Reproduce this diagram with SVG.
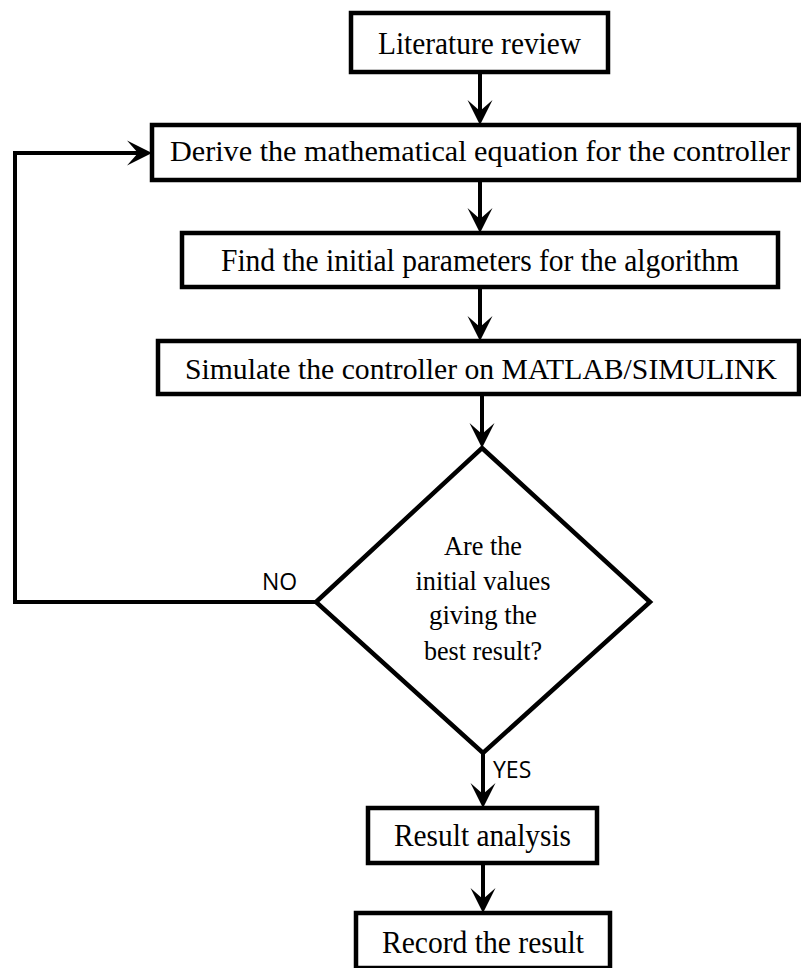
<svg xmlns="http://www.w3.org/2000/svg" width="801" height="968" viewBox="0 0 801 968">
<style>
.box{fill:#fff;stroke:#000;stroke-width:4.5}
.t{font-family:"Liberation Serif","Times New Roman",serif;font-size:32px;fill:#000;text-anchor:middle}
.w{font-size:30px}
.q{font-family:"Liberation Serif","Times New Roman",serif;font-size:28px;fill:#000;text-anchor:middle}
.lbl{font-family:"Open Sans","Liberation Sans",sans-serif;font-size:23px;fill:#000}
.ln{fill:none;stroke:#000;stroke-width:4;marker-end:url(#ah)}
</style>
<defs>
<marker id="ah" markerUnits="userSpaceOnUse" viewBox="-12 -14 28 28" refX="0" refY="0" markerWidth="28" markerHeight="28" orient="auto">
<path d="M14,0 L-11,-12.5 L0,0 L-11,12.5 Z" fill="#000"/>
</marker>
</defs>
<rect width="801" height="968" fill="#fff"/>
<g id="connectors">
<path class="ln" d="M480,72 V111"/>
<path class="ln" d="M480,180 V219"/>
<path class="ln" d="M480,287 V327"/>
<path class="ln" d="M482,394 V434"/>
<path class="ln" d="M483,753 V794"/>
<path class="ln" d="M483,863 V899"/>
<path class="ln" d="M316,602 H15 V153 H138"/>
</g>
<g id="n1"><rect class="box" x="351" y="13" width="257" height="59"/><text class="t" x="479.5" y="54" textLength="203" lengthAdjust="spacingAndGlyphs">Literature review</text></g>
<g id="n2"><rect class="box" x="152" y="125" width="647" height="55"/><text class="t w" x="480" y="161" textLength="620" lengthAdjust="spacingAndGlyphs">Derive the mathematical equation for the controller</text></g>
<g id="n3"><rect class="box" x="182" y="233" width="596" height="54"/><text class="t" x="480" y="271" textLength="518" lengthAdjust="spacingAndGlyphs">Find the initial parameters for the algorithm</text></g>
<g id="n4"><rect class="box" x="158" y="341" width="641" height="53"/><text class="t w" x="481" y="379" textLength="592" lengthAdjust="spacingAndGlyphs">Simulate the controller on MATLAB/SIMULINK</text></g>
<g id="n5"><polygon class="box" points="482,448 650,602 483,753 316,602"/>
<text class="q" x="483" y="555" textLength="78" lengthAdjust="spacingAndGlyphs">Are the</text>
<text class="q" x="483" y="590" textLength="135" lengthAdjust="spacingAndGlyphs">initial values</text>
<text class="q" x="483" y="624" textLength="108" lengthAdjust="spacingAndGlyphs">giving the</text>
<text class="q" x="483" y="660" textLength="118" lengthAdjust="spacingAndGlyphs">best result?</text></g>
<g id="n6"><rect class="box" x="368" y="808" width="229" height="55"/><text class="t" x="482.5" y="846" textLength="177" lengthAdjust="spacingAndGlyphs">Result analysis</text></g>
<g id="n7"><rect class="box" x="356" y="913" width="254" height="55"/><text class="t" x="483" y="953" textLength="202" lengthAdjust="spacingAndGlyphs">Record the result</text></g>
<g id="labels">
<text class="lbl" x="262" y="590">NO</text>
<text class="lbl" x="493" y="778">YES</text>
</g>
</svg>
